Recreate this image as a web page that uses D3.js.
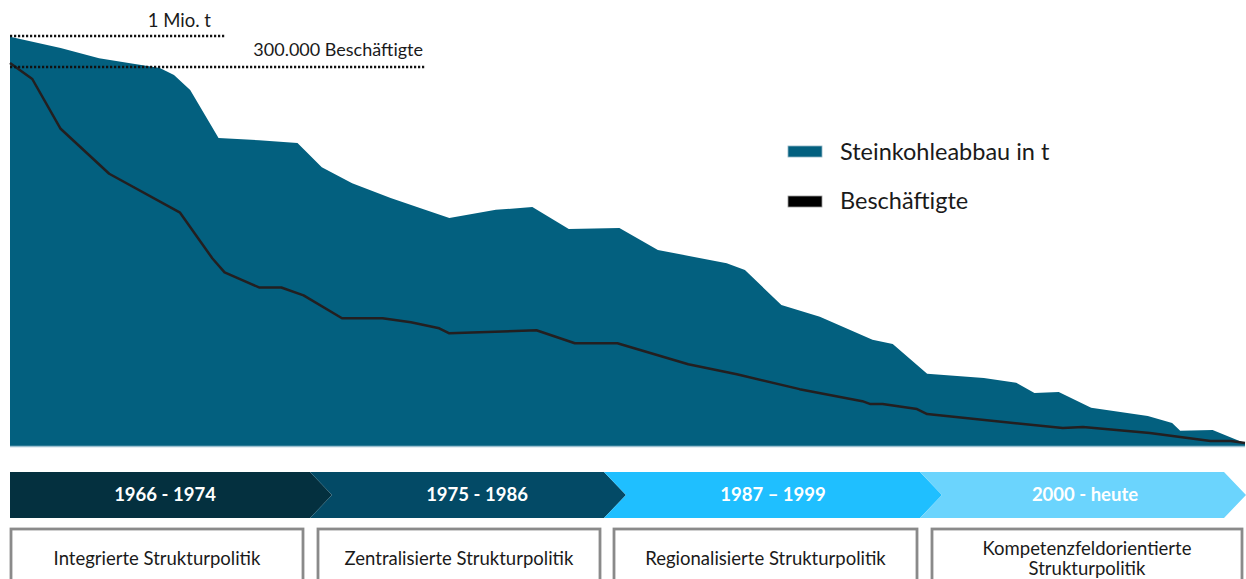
<!DOCTYPE html>
<html lang="de">
<head>
<meta charset="UTF-8">
<script src="https://d3js.org/d3.v7.min.js"></script>
<title>Steinkohleabbau und Beschäftigte</title>
<style>
  body { margin: 0; background: #fff; }
  svg { display: block; font-family: Lato, "Open Sans", sans-serif; }
</style>
</head>
<body>
<svg id="chart" width="1246" height="579"></svg>
<script>
// coal output, relative to 1 Mio. t reference line
const coalYears = [1957, 1959.5, 1961.4, 1964.4, 1965.1, 1965.9, 1967.3, 1969.3, 1971.2, 1972.4,
  1973.9, 1975.8, 1977.5, 1978.7, 1981.0, 1982.8, 1984.6, 1987.1, 1989.0, 1990.6,
  1992.4, 1993.3, 1995.1, 1997.0, 1999.6, 2000.6, 2002.3, 2005.1, 2006.7, 2007.6,
  2008.8, 2010.4, 2013.2, 2014.4, 2014.8, 2016.4, 2018];
const coalValues = [0.998, 0.971, 0.946, 0.922, 0.905, 0.868, 0.751, 0.746, 0.739, 0.680,
  0.641, 0.605, 0.576, 0.556, 0.576, 0.583, 0.529, 0.532, 0.478, 0.463,
  0.446, 0.429, 0.344, 0.315, 0.259, 0.249, 0.176, 0.166, 0.154, 0.129,
  0.132, 0.093, 0.073, 0.056, 0.037, 0.039, 0.007];

// employees in thousands
const jobYears = [1957, 1958.1, 1959.5, 1961.9, 1965.4, 1967.0, 1967.6, 1969.3, 1970.4, 1971.5,
  1973.4, 1975.4, 1976.8, 1978.2, 1978.7, 1983.0, 1984.9, 1987.0, 1990.5, 1992.9,
  1996.0, 1999.1, 1999.5, 2000.1, 2001.8, 2002.3, 2009.0, 2010.0, 2013.3, 2016.3,
  2017.3, 2018];
const jobValues = [303.2, 290.5, 251.1, 215.5, 184.7, 148.4, 137.4, 125.5, 125.5, 119.2,
  101.1, 101.1, 97.9, 93.2, 89.2, 91.6, 81.3, 81.3, 64.7, 56.8,
  45.0, 35.5, 33.2, 33.2, 29.2, 25.3, 14.2, 15.0, 10.3, 3.9,
  3.9, 2.4];

const periods = ["1966 - 1974", "1975 - 1986", "1987 \u2013 1999", "2000 - heute"];
const policies = [["Integrierte Strukturpolitik"], ["Zentralisierte Strukturpolitik"],
  ["Regionalisierte Strukturpolitik"], ["Kompetenzfeldorientierte", "Strukturpolitik"]];
const periodColors = ["#04303f", "#034a66", "#1fbfff", "#6bd4fd"];
// band edges along the timeline bar (px)
const bandEdges = [10, 310, 604, 920, 1224];
const bandLabelX = [165, 477, 773, 1085];
const boxEdges = [[10, 304], [317, 601], [613, 918], [931, 1243]];

const svg = d3.select("#chart");

const x = d3.scaleLinear().domain([1957, 2018]).range([10, 1245]);
const yCoal = d3.scaleLinear().domain([0, 1]).range([446, 36]);
const yJobs = d3.scaleLinear().domain([0, 300]).range([446, 67]);

const coal = coalYears.map((d, i) => ({ year: d, v: coalValues[i] }));
const jobs = jobYears.map((d, i) => ({ year: d, v: jobValues[i] }));

// area
svg.append("path")
  .datum(coal)
  .attr("fill", "#03607f")
  .attr("d", d3.area().x(d => x(d.year)).y0(yCoal(0)).y1(d => yCoal(d.v)));

svg.append("line")
  .attr("x1", x(1957)).attr("x2", x(2018))
  .attr("y1", yCoal(0) + 0.5).attr("y2", yCoal(0) + 0.5)
  .attr("stroke", "#9cc0d0").attr("stroke-width", 1.5);

// employees line
svg.append("path")
  .datum(jobs)
  .attr("fill", "none")
  .attr("stroke", "#231f20")
  .attr("stroke-width", 2.5)
  .attr("stroke-linejoin", "round")
  .attr("d", d3.line().x(d => x(d.year)).y(d => yJobs(d.v)));

// reference lines
svg.append("line")
  .attr("x1", 10).attr("x2", 226)
  .attr("y1", yCoal(1)).attr("y2", yCoal(1))
  .attr("stroke", "#111").attr("stroke-width", 2.6)
  .attr("stroke-dasharray", "2.2,1.8");
svg.append("text")
  .attr("x", 211).attr("y", yCoal(1) - 9)
  .attr("text-anchor", "end")
  .attr("font-size", 18.5).attr("fill", "#1a1a1a")
  .text("1 Mio. t");

svg.append("line")
  .attr("x1", 10).attr("x2", 426)
  .attr("y1", yJobs(300)).attr("y2", yJobs(300))
  .attr("stroke", "#111").attr("stroke-width", 2.6)
  .attr("stroke-dasharray", "2.2,1.8");
svg.append("text")
  .attr("x", 423).attr("y", yJobs(300) - 11)
  .attr("text-anchor", "end")
  .attr("font-size", 18).attr("fill", "#1a1a1a")
  .text("300.000 Beschäftigte");

// legend
const legend = svg.append("g").attr("transform", "translate(788,146)");
legend.append("rect").attr("width", 34).attr("height", 11).attr("fill", "#03607f")
  .attr("stroke", "#8fb3c3").attr("stroke-width", 0.8);
legend.append("text").attr("x", 52).attr("y", 6).attr("dy", "0.35em")
  .attr("font-size", 23.5).attr("fill", "#1a1a1a").text("Steinkohleabbau in t");
legend.append("rect").attr("y", 50).attr("width", 34).attr("height", 11).attr("fill", "#000")
  .attr("stroke", "#999").attr("stroke-width", 0.8);
legend.append("text").attr("x", 52).attr("y", 55).attr("dy", "0.35em")
  .attr("font-size", 23.5).attr("fill", "#1a1a1a").text("Beschäftigte");

// timeline chevrons
const bandTop = 472, bandBot = 518, bandMid = (bandTop + bandBot) / 2, tip = 22;
periods.forEach((p, i) => {
  const x0 = bandEdges[i], x1 = bandEdges[i + 1];
  const pts = i === 0
    ? [[x0, bandTop], [x1, bandTop], [x1 + tip, bandMid], [x1, bandBot], [x0, bandBot]]
    : [[x0, bandTop], [x1, bandTop], [x1 + tip, bandMid], [x1, bandBot], [x0, bandBot], [x0 + tip, bandMid]];
  svg.append("polygon")
    .attr("points", pts.map(d => d.join(",")).join(" "))
    .attr("fill", periodColors[i]);
});
periods.forEach((p, i) => {
  svg.append("text")
    .attr("x", bandLabelX[i]).attr("y", bandMid).attr("dy", "0.35em")
    .attr("text-anchor", "middle")
    .attr("font-size", 18.5).attr("font-weight", "bold").attr("fill", "#fff")
    .text(p);
});

// policy boxes
policies.forEach((lines, i) => {
  const [bx0, bx1] = boxEdges[i];
  svg.append("rect")
    .attr("x", bx0 + 1).attr("y", 529)
    .attr("width", bx1 - bx0 - 2).attr("height", 70)
    .attr("fill", "#fff")
    .attr("stroke", "#8a8a8a").attr("stroke-width", 2.8);
  const t = svg.append("text")
    .attr("text-anchor", "middle")
    .attr("font-size", 18.5).attr("fill", "#1a1a1a");
  const startY = lines.length === 1 ? 559 : 549;
  lines.forEach((l, j) => {
    t.append("tspan").attr("x", (bx0 + bx1) / 2).attr("y", startY + j * 20)
      .attr("dy", "0.35em").text(l);
  });
});
</script>
</body>
</html>
